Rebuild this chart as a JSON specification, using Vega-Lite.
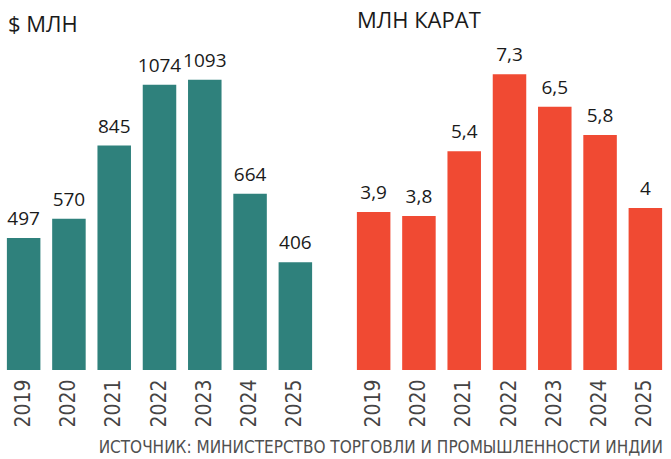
{
  "$schema": "https://vega.github.io/schema/vega-lite/v6.json",
  "padding": {"left": 1, "top": 10, "right": 0, "bottom": 0},
  "background": "white",
  "config": {"view": {"stroke": null}, "font": "Open Sans"},
  "title": {"text": "ИСТОЧНИК: МИНИСТЕРСТВО ТОРГОВЛИ И ПРОМЫШЛЕННОСТИ ИНДИИ", "orient": "bottom", "anchor": "end", "font": "DejaVu Sans Condensed, Roboto", "fontSize": 17, "fontWeight": "normal", "color": "#505050", "offset": 13, "dx": -5},
  "spacing": 33,
  "hconcat": [
    {
      "width": 317,
      "height": 320,
      "title": {"text": "$ МЛН", "anchor": "start", "font": "Open Sans", "fontSize": 22, "fontWeight": "normal", "color": "#1a1a1a", "dx": 7, "offset": 13},
      "data": {"values": [
        {"year": "2019", "value": 497, "label": "497"},
        {"year": "2020", "value": 570, "label": "570"},
        {"year": "2021", "value": 845, "label": "845"},
        {"year": "2022", "value": 1074, "label": "1074"},
        {"year": "2023", "value": 1093, "label": "1093"},
        {"year": "2024", "value": 664, "label": "664"},
        {"year": "2025", "value": 406, "label": "406"}
      ]},
      "encoding": {
        "x": {"field": "year", "type": "ordinal", "scale": {"paddingInner": 0.26, "paddingOuter": 0.13},
          "axis": {"title": null, "labelAngle": -90, "labelAlign": "right", "labelBaseline": "middle", "labelFont": "DejaVu Sans Condensed, Roboto", "labelFontSize": 21, "labelFontWeight": 300, "labelColor": "#444444", "labelPadding": 9, "domain": false, "ticks": false}},
        "y": {"field": "value", "type": "quantitative", "scale": {"domain": [0, 1205]}, "axis": null}
      },
      "layer": [
        {"mark": {"type": "bar", "color": "#2f817c"}},
        {"mark": {"type": "text", "baseline": "alphabetic", "dy": -13, "fontSize": 19, "color": "#1a1a1a"}, "encoding": {"text": {"field": "label"}}}
      ]
    },
    {
      "width": 317,
      "height": 320,
      "title": {"text": "МЛН КАРАТ", "anchor": "start", "font": "Open Sans", "fontSize": 22, "fontWeight": "normal", "color": "#1a1a1a", "dx": 6, "offset": 13},
      "data": {"values": [
        {"year": "2019", "value": 3.9, "label": "3,9"},
        {"year": "2020", "value": 3.8, "label": "3,8"},
        {"year": "2021", "value": 5.4, "label": "5,4"},
        {"year": "2022", "value": 7.3, "label": "7,3"},
        {"year": "2023", "value": 6.5, "label": "6,5"},
        {"year": "2024", "value": 5.8, "label": "5,8"},
        {"year": "2025", "value": 4, "label": "4"}
      ]},
      "encoding": {
        "x": {"field": "year", "type": "ordinal", "scale": {"paddingInner": 0.26, "paddingOuter": 0.13},
          "axis": {"title": null, "labelAngle": -90, "labelAlign": "right", "labelBaseline": "middle", "labelFont": "DejaVu Sans Condensed, Roboto", "labelFontSize": 21, "labelFontWeight": 300, "labelColor": "#444444", "labelPadding": 9, "domain": false, "ticks": false}},
        "y": {"field": "value", "type": "quantitative", "scale": {"domain": [0, 7.9]}, "axis": null}
      },
      "layer": [
        {"mark": {"type": "bar", "color": "#f04a33"}},
        {"mark": {"type": "text", "baseline": "alphabetic", "dy": -13, "fontSize": 19, "color": "#1a1a1a"}, "encoding": {"text": {"field": "label"}}}
      ]
    }
  ]
}
